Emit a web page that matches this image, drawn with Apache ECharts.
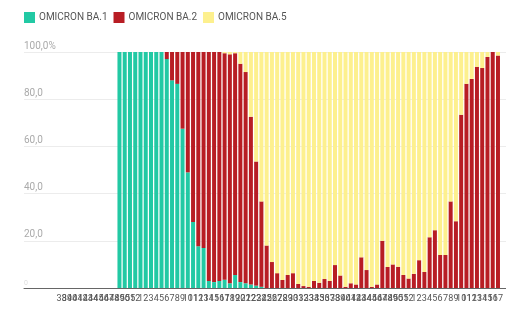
<!DOCTYPE html>
<html>
<head>
<meta charset="utf-8">
<script src="https://cdn.jsdelivr.net/npm/echarts@6/dist/echarts.min.js"></script>
<style>
  html, body { margin: 0; padding: 0; background: #fff; }
  #chart { width: 506px; height: 310px; }
</style>
</head>
<body>
<div id="chart"></div>
<script>
// Week labels (2021 w38 .. 2023 w17)
var weeks = ['38','39','40','41','42','43','44','45','46','47','48','49','50','51','52',
  '1','2','3','4','5','6','7','8','9','10','11','12','13','14','15','16','17','18','19','20',
  '21','22','23','24','25','26','27','28','29','30','31','32','33','34','35','36','37','38','39','40',
  '41','42','43','44','45','46','47','48','49','50','51','52',
  '1','2','3','4','5','6','7','8','9','10','11','12','13','14','15','16','17'];

var seriesNames = ['OMICRON BA.1', 'OMICRON BA.2', 'OMICRON BA.5'];
var seriesColors = ['#22c9a4', '#b81d24', '#fdf08e'];

// Shares in %, one value per week (null = no data)
var ba1 = [null,null,null,null,null,null,null,null,null,null,null,
  100,100,100,100,100,100,100,100,100,97,88,86.5,67.5,49,28,17.7,17,3,2.5,3,3.5,2,5.5,2.5,2,1.5,1,0.5,
  0,0,0,0,0,0,0,0,0,0,0,0,0,0,0,0,0,0,0,0,0,0,0,0,0,0,0,0,0,0,0,0,0,0,0,0,0,0,0,0,0,0,0,0,0];
var ba2 = [null,null,null,null,null,null,null,null,null,null,null,
  0,0,0,0,0,0,0,0,0,3,12,13.5,32.5,51,72,82.3,83,97,97.5,97,96,97,94,92.5,89.5,71.1,52.6,36.2,
  18,11,6.3,3.4,5.5,6.3,1.7,0.8,0.5,3,2.2,3.8,3,9.7,5.3,0.5,2,1.5,13,7.6,0.5,1.5,
  20,8.9,10,9,5.5,4,6,11.8,6.8,21.5,24.5,14,14,36.7,28.3,73.4,86.5,88.6,93.7,93.2,97.9,100,98.5];
var ba5 = [null,null,null,null,null,null,null,null,null,null,null,
  0,0,0,0,0,0,0,0,0,0,0,0,0,0,0,0,0,0,0,0,0.5,1,0.5,5,8.5,27.4,46.4,63.3,
  82,89,93.7,96.6,94.5,93.7,98.3,99.2,99.5,97,97.8,96.2,97,90.3,94.7,99.5,98,98.5,87,92.4,99.5,98.5,
  80,91.1,90,91,94.5,96,94,88.2,93.2,78.5,75.5,86,86,63.3,71.7,26.6,13.5,11.4,6.3,6.8,2.1,0,1.5];

var chart = echarts.init(document.getElementById('chart'), null, { renderer: 'canvas' });

var series = [ba1, ba2, ba5].map(function (d, i) {
  return {
    name: seriesNames[i],
    type: 'bar',
    stack: 'share',
    xAxisIndex: 1,
    yAxisIndex: 1,
    barCategoryGap: '24%',
    itemStyle: { color: seriesColors[i] },
    data: d
  };
});

chart.setOption({
  animation: false,
  textStyle: { fontFamily: 'Roboto, sans-serif' },
  legend: {
    left: 24,
    top: 12,
    padding: 0,
    itemWidth: 11,
    itemHeight: 11,
    itemGap: 6,
    icon: 'rect',
    textStyle: { fontSize: 10, color: '#555', padding: [0, 0, 0, -1] },
    data: seriesNames
  },
  grid: [
    { left: 24, right: -4, top: 52, bottom: 22 },
    { left: 59, right: -1, top: 52, bottom: 22 }
  ],
  xAxis: [
    {
      type: 'value', gridIndex: 0, min: 0, max: 1,
      axisLine: { show: true, lineStyle: { color: '#666', width: 1 } },
      axisTick: { show: false }, axisLabel: { show: false }, splitLine: { show: false }
    },
    {
      type: 'category', gridIndex: 1, data: weeks,
      axisLine: { show: false }, axisTick: { show: false },
      axisLabel: { interval: 0, fontSize: 9, color: '#555', margin: 6 }
    }
  ],
  yAxis: [
    {
      type: 'value', gridIndex: 0, min: 0, max: 100, interval: 20,
      axisLine: { show: false }, axisTick: { show: false },
      splitLine: { lineStyle: { color: '#ececec', width: 1 } },
      axisLabel: {
        inside: true, margin: 0, verticalAlign: 'bottom', fontSize: 10, color: '#aaa',
        padding: [0, 0, 1, 0],
        formatter: function (v) {
          if (v === 100) return '100,0%';
          if (v === 0) return '{z|0}';
          return v.toFixed(1).replace('.', ',');
        },
        rich: { z: { fontSize: 7, color: '#ddd' } }
      }
    },
    { type: 'value', gridIndex: 1, min: 0, max: 100, show: false }
  ],
  series: series
});
</script>
</body>
</html>
